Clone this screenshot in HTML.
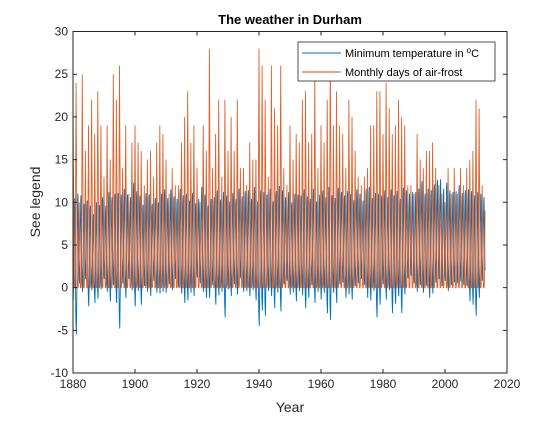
<!DOCTYPE html>
<html><head><meta charset="utf-8"><style>
body{margin:0;background:#fff;font-family:"Liberation Sans",sans-serif}
svg text{font-family:"Liberation Sans",sans-serif}
</style></head><body>
<svg width="560" height="420" viewBox="0 0 560 420" xmlns="http://www.w3.org/2000/svg">
<rect width="560" height="420" fill="#fff"/>
<g id="plot"></g>
<rect x="73" y="31.5" width="434" height="341.5" fill="none" stroke="#262626" stroke-width="1"/>
<g id="ticks"></g>
<text x="290" y="24" text-anchor="middle" font-size="13" font-weight="bold" fill="#000">The weather in Durham</text>
<text x="290" y="412" text-anchor="middle" font-size="14" fill="#262626">Year</text>
<text transform="translate(40,202) rotate(-90)" text-anchor="middle" font-size="14" fill="#262626">See legend</text>
<g>
<rect x="298" y="42" width="197" height="39" fill="#fff" stroke="#262626" stroke-width="0.8"/>
<line x1="302" y1="53" x2="341" y2="53" stroke="#0072BD" stroke-width="1"/>
<text x="345" y="57" font-size="11" fill="#000">Minimum temperature in <tspan baseline-shift="super" font-size="8">o</tspan>C</text>
<line x1="302" y1="72" x2="341" y2="72" stroke="#D95319" stroke-width="1"/>
<text x="345" y="76" font-size="11" fill="#000">Monthly days of air-frost</text>
</g>
</svg>
<script>
const startYear = 1880;
const frostPeak = [22,24,10,25,16,19,22,18,23,19,13,19,15,25,22,26,14,19,11,17,19,17,16,12,15,16,13,17,19,18,15,11,14,12,12,17,20,23,17,19,14,10,19,16,28,14,18,22,13,22,16,20,16,22,14,14,12,17,15,15,28,26,22,13,26,21,19,26,14,12,19,15,18,17,22,23,17,18,25,14,19,17,22,28,19,23,19,18,14,22,20,16,13,12,13,14,19,19,23,23,18,24,21,18,19,22,20,19,12,12,11,18,15,14,16,16,17,14,12,11,10,14,11,14,11,14,12,14,15,16,22,21,12];
const tempLow = [-1.5,-5.5,0.5,-0.5,1,-2.2,-0.3,-1.8,-1.3,-0.2,1,-0.5,-1.6,0.3,-1.8,-4.8,0.5,-1.2,1,-0.3,-2.2,-0.4,-2,0.2,-0.5,-1,0.8,-0.6,-0.7,-0.5,-0.6,0.4,-0.3,1,0,-0.7,-1.8,-1.5,-0.6,-1,1.2,0.5,-0.5,-1.2,-1.2,0.3,-2,-0.9,-0.5,-3.5,-0.2,-1,0.4,-0.8,1.1,-0.5,-0.4,-1,-0.3,-1.5,-4.5,-2.7,-3.3,-0.4,-1,-2.4,-0.6,-2.8,0.4,0.8,-0.8,-0.6,-1.6,-0.4,-0.9,-2.4,-1.2,0.3,-1.8,-0.5,-1.4,-0.6,-3,-3.8,-0.6,-1.8,0.4,0.6,-1.2,-0.8,-1.4,0.2,0.5,1,0.3,-1.2,-1.5,-0.4,-3.5,-2,0.4,-1.4,-0.3,-3,-1.9,-1,-3,-0.8,1.1,1.4,0.5,-0.5,0.3,-0.6,0.2,-1.2,-0.7,0.6,1,0.2,0.8,-0.4,0.3,0.6,0.5,0.7,0.3,0.2,-1.6,-2,-3.3,-1.2,0.8];
const tempHigh = [10.5,11,10.8,9.8,10.2,9.6,8.6,10,9.7,10.6,9.6,11.2,10.6,11,11.1,10.9,11.6,10.9,10.6,12.3,11.3,10.8,9.7,11.1,10.9,9.8,10.5,10,11,11.5,10.5,11.5,10.7,10.4,11.6,10.8,11,10.2,11.1,9.9,10.4,11.8,10.9,9.6,10.4,10.6,11.4,10.3,11.2,10.8,10.1,11.1,10.4,11.6,10.7,11.3,11.4,10.4,11.8,10.1,11.4,11.2,10.9,11.6,10.1,11.3,11.9,11.4,10.6,11.2,10,11,10.9,10.8,11.5,10.7,10.4,11.6,10.1,10.9,11.4,10.6,11.8,10.8,10.5,11.7,11.2,10.8,11.3,11,10.3,11.5,11,10.2,11.6,11.8,10.5,11.1,11,10.8,11.4,10.6,11.5,10.8,11.3,10.4,11.7,11.4,11,11.2,11.2,11.6,12.5,11,11.6,11.4,12.1,12.6,12.7,11.6,12.3,11.4,11.2,11.3,12,11.1,11.4,11.5,11.3,10.8,11.2,11,10.6];
const tempSeason = [0.05,0,0.15,0.3,0.5,0.75,0.95,1,0.8,0.55,0.3,0.12];
const frostSeason = [1,0.75,0.55,0.3,0.1,0,0,0,0.02,0.18,0.45,0.75];
const xTicks = [1880,1900,1920,1940,1960,1980,2000,2020];
const yTicks = [-10,-5,0,5,10,15,20,25,30];

const X0=73,X1=507,Y0=373,Y1=31.5;
const xs = v => X0 + (v-1880)/(2020-1880)*(X1-X0);
const ys = v => Y0 - (v+10)/40*(Y0-Y1);
const NS='http://www.w3.org/2000/svg';
const plot=document.getElementById('plot');
let tp=[],fp=[];
for(let i=0;i<frostPeak.length;i++){
  const nextLow = i+1<tempLow.length ? tempLow[i+1] : tempLow[i];
  for(let m=0;m<12;m++){
    const t = startYear+i+m/12;
    const lo = m<6 ? tempLow[i] : nextLow;
    const tv = lo + (tempHigh[i]-lo)*tempSeason[m];
    const fPk = m<6 ? frostPeak[i] : (i+1<frostPeak.length?frostPeak[i+1]:frostPeak[i]);
    const fv = fPk*frostSeason[m];
    tp.push(xs(t).toFixed(2)+','+ys(tv).toFixed(2));
    fp.push(xs(t).toFixed(2)+','+ys(fv).toFixed(2));
  }
}
const l1=document.createElementNS(NS,'polyline');


l1.setAttribute('points',tp.join(' '));
l1.setAttribute('fill','none');l1.setAttribute('stroke','#0072BD');l1.setAttribute('stroke-width','0.9');
plot.appendChild(l1);
const l2=document.createElementNS(NS,'polyline');


l2.setAttribute('points',fp.join(' '));
l2.setAttribute('fill','none');l2.setAttribute('stroke','#D95319');l2.setAttribute('stroke-width','0.9');l2.setAttribute('stroke-opacity','0.9');
plot.appendChild(l2);
const tg=document.getElementById('ticks');
xTicks.forEach(v=>{
  const x=xs(v);
  const ln=document.createElementNS(NS,'path');
  
  
  ln.setAttribute('d',`M${x} ${Y0}V${Y0-4}M${x} ${Y1}V${Y1+4}`);ln.setAttribute('stroke','#262626');
  tg.appendChild(ln);
  const tx=document.createElementNS(NS,'text');
  
  
  tx.setAttribute('x',x);tx.setAttribute('y',Y0+15);tx.setAttribute('text-anchor','middle');tx.setAttribute('font-size','12');tx.setAttribute('fill','#262626');
  tx.textContent=v;tg.appendChild(tx);
});
yTicks.forEach(v=>{
  const y=ys(v);
  const ln=document.createElementNS(NS,'path');
  
  
  ln.setAttribute('d',`M${X0} ${y}H${X0+4}M${X1} ${y}H${X1-4}`);ln.setAttribute('stroke','#262626');
  tg.appendChild(ln);
  const tx=document.createElementNS(NS,'text');
  
  
  tx.setAttribute('x',X0-5);tx.setAttribute('y',y+4);tx.setAttribute('text-anchor','end');tx.setAttribute('font-size','12');tx.setAttribute('fill','#262626');
  tx.textContent=v;tg.appendChild(tx);
});
</script>
</body></html>
